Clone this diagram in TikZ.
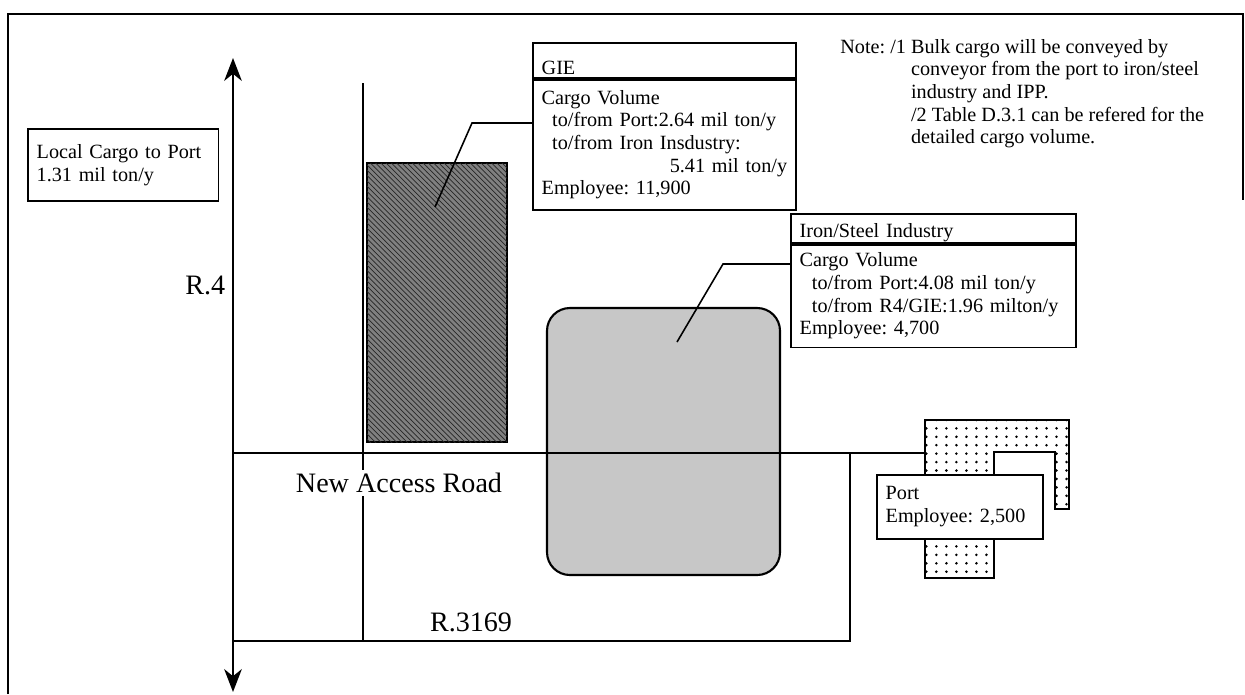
\documentclass[tikz,border=0pt]{standalone}
\usepackage{fontspec}
\setmainfont{Liberation Serif}
\usetikzlibrary{arrows.meta,patterns}
\pgfdeclarepatternformonly{portdots}{\pgfqpoint{-1pt}{-1pt}}{\pgfqpoint{6.7pt}{5.8pt}}{\pgfqpoint{5.7pt}{4.8pt}}{\pgfpathcircle{\pgfqpoint{2.85pt}{2.4pt}}{0.8pt}\pgfusepath{fill}}
\frenchspacing

\begin{document}
\begin{tikzpicture}[
			x=0.02cm,
			y=-0.02cm,
			>={Stealth[length=13pt,width=10pt,inset=4pt]},
			font=\fontsize{11.5}{12.9}\selectfont,
			road/.style={line width=1.3pt},
			leader/.style={line width=0.9pt},
			infobox/.style={draw, line width=1pt, fill=white, align=left, inner xsep=5pt, inner ysep=2pt, anchor=north west},
			headbox/.style={infobox, inner ysep=1pt},
			roadlabel/.style={font=\fontsize{16}{19}\selectfont, inner sep=2pt}
		]
			\useasboundingbox (0,0) rectangle (1245,694);

			\draw[line width=1.5pt] (8,694) -- (8,14) -- (1243,14) -- (1243,200);

			\draw[line width=1.2pt, fill=black!22, rounded corners=13pt] (547,308) rectangle (780,575);
			\draw[line width=1.2pt, fill=black!50, postaction={pattern=north west lines, pattern color=black!85}] (367,163) rectangle (507,442);
			\draw[line width=1.2pt, fill=white, postaction={pattern=portdots}] (925,420) -- (1069,420) -- (1069,509) -- (1055,509) -- (1055,452) -- (994,452) -- (994,578) -- (925,578) -- cycle;

			\draw[road, <->] (233,58) -- (233,692);
			\draw[road] (233,453) -- (925,453);
			\draw[road] (363,83) -- (363,641);
			\draw[road] (233,641) -| (850,453);

			\node[roadlabel, anchor=east] (rfour) at (229,285) {R.4};
			\node[roadlabel, fill=white] (newroad) at (399,483) {New Access Road};
			\node[roadlabel] (rthree) at (471,622) {R.3169};

			\node[infobox, text width=3.46cm, minimum height=1.44cm] (localcargo) at (27,128) {Local Cargo to Port\\1.31 mil ton/y};

			\node[headbox, text width=4.91cm, text height=17pt, text depth=1pt] (giehead) at (532,42) {GIE};
			\node[infobox, text width=4.91cm, minimum height=2.6cm] (giebody) at (giehead.south west) {Cargo Volume\\\hspace*{6pt}to/from Port:2.64 mil ton/y\\\hspace*{6pt}to/from Iron Insdustry:\\\hspace*{\fill}5.41 mil ton/y\\Employee: 11,900};

			\node[headbox, text width=5.35cm, text height=12.7pt, text depth=1.8pt] (ironhead) at (790,213) {\underline{Iron/Steel Industry}};
			\node[infobox, text width=5.35cm, minimum height=2.06cm] (ironbody) at (ironhead.south west) {Cargo Volume\\\hspace*{7pt}to/from Port:4.08 mil ton/y\\\hspace*{7pt}to/from R4/GIE:1.96 milton/y\\Employee: 4,700};

			\node[infobox, text width=2.97cm, minimum height=1.28cm] (portbox) at (876,474) {Port\\Employee: 2,500};

			\node[anchor=north west, inner sep=0pt] (note) at (840,37) {\begin{tabular}{@{}l@{ }l@{}}Note: /1 & Bulk cargo will be conveyed by\\ & conveyor from the port to iron/steel\\ & industry and IPP.\\ & /2 Table D.3.1 can be refered for the\\ & detailed cargo volume.\end{tabular}};

			\coordinate (giebend) at (472,123);
			\coordinate (giept) at (435,207);
			\coordinate (ironbend) at (723,264);
			\coordinate (ironpt) at (677,342);

			\draw[leader] (giebody.west |- giebend) -- (giebend) -- (giept);
			\draw[leader] (ironbody.west |- ironbend) -- (ironbend) -- (ironpt);
		\end{tikzpicture}
\end{document}
